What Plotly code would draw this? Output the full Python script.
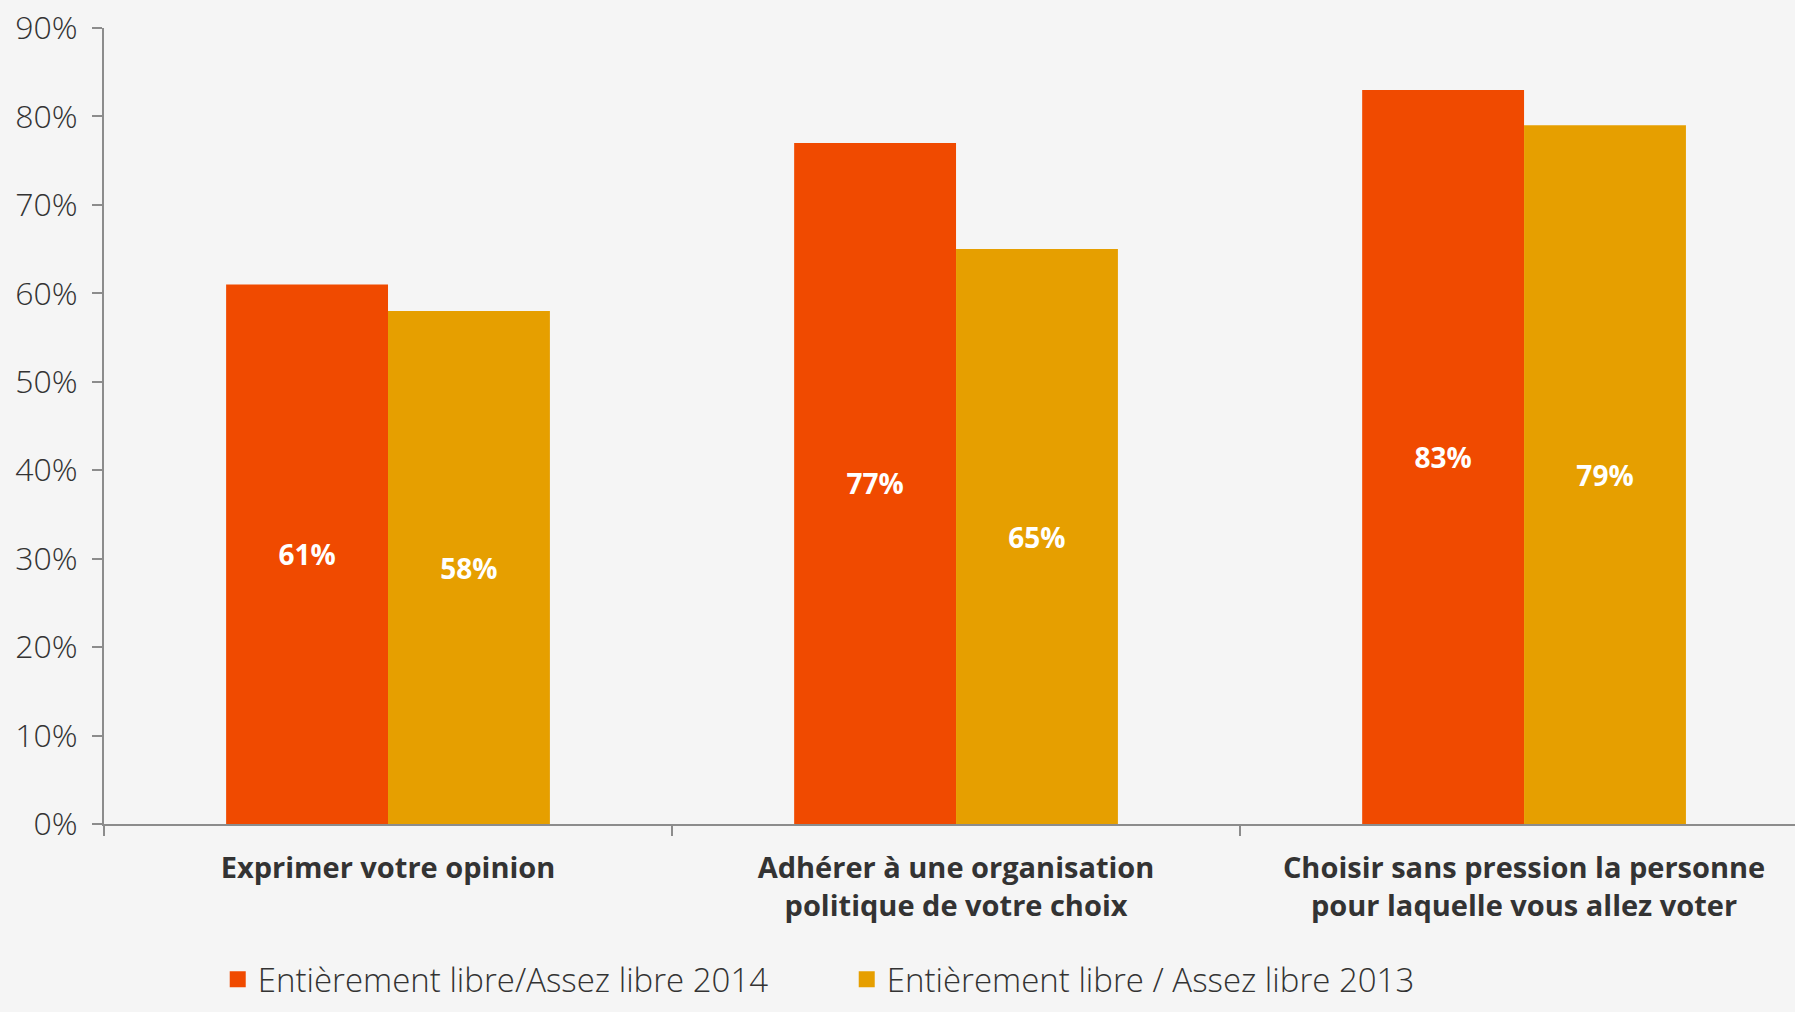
import plotly.graph_objects as go

categories = [
    "Exprimer votre opinion",
    "Adhérer à une organisation<br>politique de votre choix",
    "Choisir sans pression la personne<br>pour laquelle vous allez voter",
]
series_2014_name = "Entièrement libre/Assez libre 2014"
series_2013_name = "Entièrement libre / Assez libre 2013"
values_2014 = [61, 77, 83]
values_2013 = [58, 65, 79]
y_ticks = [0, 10, 20, 30, 40, 50, 60, 70, 80, 90]
y_tick_labels = [f"{v}%" for v in y_ticks]

C2014 = "#F04A00"
C2013 = "#E69F00"
BG = "#F5F5F5"
FONT = "Open Sans"

fig = go.Figure()
for name, vals, col in [(series_2014_name, values_2014, C2014),
                        (series_2013_name, values_2013, C2013)]:
    fig.add_trace(go.Bar(
        x=categories, y=vals, name=name, showlegend=False,
        marker=dict(color=col, line=dict(width=0)),
        text=[f"{v}%" for v in vals], textposition="inside",
        insidetextanchor="middle",
        textfont=dict(family=FONT, size=28, color="white", weight="bold"),
    ))
    # legend entry with a larger square swatch
    fig.add_trace(go.Scatter(
        x=[None], y=[None], mode="markers", name=name,
        marker=dict(symbol="square", size=18, color=col),
        showlegend=True,
    ))

fig.update_layout(
    width=1795, height=1012,
    margin=dict(l=104, r=0, t=28, b=188),
    paper_bgcolor=BG, plot_bgcolor=BG,
    barmode="group", bargap=0.43, bargroupgap=0,
    legend=dict(
        orientation="h", xref="container", yref="container",
        x=0.1213, y=0.06, xanchor="left", yanchor="top",
        font=dict(family=FONT, size=33, color="#333333", weight=300),
        entrywidth=584, entrywidthmode="pixels",
        bgcolor="rgba(0,0,0,0)", itemwidth=30,
    ),
    font=dict(family=FONT, color="#333333"),
)
fig.update_xaxes(
    range=[-0.5, 2.477],
    showline=True, linecolor="#8C8C8C", linewidth=2,
    ticks="outside", tickson="boundaries", ticklen=10, tickwidth=2, tickcolor="#8C8C8C",
    tickfont=dict(family=FONT, size=29, color="#333333", weight="bold"),
    ticklabelstandoff=17,
    showgrid=False, zeroline=False,
)
fig.update_yaxes(
    range=[0, 90], tickmode="array", tickvals=y_ticks, ticktext=y_tick_labels,
    showline=True, linecolor="#8C8C8C", linewidth=2,
    ticks="outside", ticklen=10, tickwidth=2, tickcolor="#8C8C8C",
    tickfont=dict(family=FONT, size=32, color="#333333", weight=300),
    ticklabelstandoff=8,
    showgrid=False, zeroline=False,
)

fig.write_html("out.html", config={"displayModeBar": False},
               post_script="document.body.style.margin='0';")
